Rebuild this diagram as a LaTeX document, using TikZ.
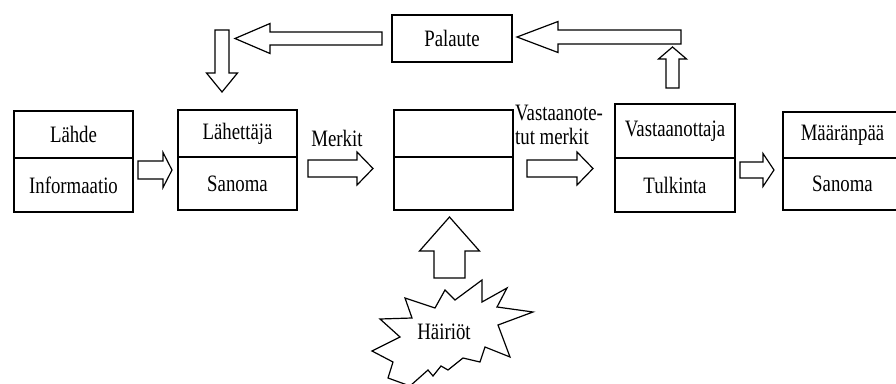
\documentclass[tikz,border=0pt]{standalone}
\usepackage{fontspec}
\setmainfont[FakeStretch=0.8]{Liberation Serif}
\usetikzlibrary{positioning,calc}

\begin{document}
\begin{tikzpicture}[x=1pt,y=-1pt,font=\fontsize{23.5}{24}\selectfont,line join=miter,
  part/.style={draw,line width=1.5pt,minimum width=119pt,inner sep=0pt,outer sep=0pt},
  blockarrow/.style n args={3}{draw,line width=1.2pt,
    to path={let \p1=(\tikztostart),\p2=(\tikztotarget),\p3=($(\tikztotarget)!#3!(\tikztostart)$) in
      ($(\p1)!#1!90:(\p2)$) -- ($(\p3)!#1!90:(\p2)$) -- ($(\p3)!#2!90:(\p2)$) -- (\p2)
      -- ($(\p3)!#2!-90:(\p2)$) -- ($(\p3)!#1!-90:(\p2)$) -- ($(\p1)!#1!-90:(\p2)$) -- cycle}}]
\fill[white] (0,0) rectangle (896,383);
\useasboundingbox (0,0) rectangle (896,383);
\node[part,minimum height=47pt] (lahde) at (73.5,134.5) {Lähde};
\node[part,minimum height=54pt,below=0pt of lahde] (informaatio) {Informaatio};
\node[part,minimum height=47pt] (lahettaja) at (237.5,133.5) {Lähettäjä};
\node[part,minimum height=53pt,below=0pt of lahettaja] (sanoma1) {Sanoma};
\node[part,minimum height=47pt] (kanava) at (453.5,133.5) {};
\node[part,minimum height=53pt,below=0pt of kanava] (kanava2) {};
\node[part,minimum width=120pt,minimum height=54pt] (vastaanottaja) at (675,131) {Vastaanottaja};
\node[part,minimum width=120pt,minimum height=54pt,below=0pt of vastaanottaja] (tulkinta) {Tulkinta};
\node[part,minimum height=46pt] (maaranpaa) at (842.5,135) {Määränpää};
\node[part,minimum height=52pt,below=0pt of maaranpaa] (sanoma2) {Sanoma};
\node[part,minimum width=120pt,minimum height=47pt] (palaute) at (452,38.5) {Palaute};
\node (merkit) at (337,138) {Merkit};
\node[align=left,anchor=west,inner sep=0pt] (vastmerkit) at (515,125) {Vastaanote-\\tut merkit};
\draw[line width=1.2pt] (405,298) -- (435,308) -- (445,290) -- (455,300) -- (482,280) -- (482,302)
  -- (507,288) -- (497,307) -- (533,312) -- (498,325) -- (510,357) -- (485,347) -- (480,362)
  -- (463,358) -- (448,370) -- (441,366) -- (433,376) -- (428,370) -- (410,386) -- (388,378)
  -- (393,362) -- (372,351) -- (400,337) -- (380,319) -- (412,318) -- cycle;
\node (hairiot) at (444,332) {Häiriöt};
\coordinate (vasenkarki) at (235,38.5);
\coordinate (oikeakarki) at (681,37);
\coordinate (alaskarki) at (222,30);
\coordinate (ylospaa) at (672.5,47);
\draw[blockarrow={9pt}{17.5pt}{9pt}] ([shift={(5,12)}]lahde.south east) to ([shift={(-6,13)}]lahettaja.south west);
\draw[blockarrow={8.5pt}{16.5pt}{16pt}] ([shift={(11,11.5)}]lahettaja.south east) to ([shift={(-21,11.5)}]kanava.south west);
\draw[blockarrow={8.5pt}{16.5pt}{16pt}] ([shift={(14,11.5)}]kanava.south east) to ([shift={(-22,10.5)}]vastaanottaja.south west);
\draw[blockarrow={8pt}{16.5pt}{11pt}] ([shift={(5,12)}]vastaanottaja.south east) to ([shift={(-9,12)}]maaranpaa.south west);
\draw[blockarrow={6.5pt}{14pt}{12pt}] ([shift={(-2.5,-16)}]vastaanottaja.north) to (ylospaa);
\draw[blockarrow={7pt}{15.5pt}{41pt}] (oikeakarki) to ([shift={(5,-1.5)}]palaute.east);
\draw[blockarrow={6.5pt}{15pt}{35pt}] ([xshift=-10pt]palaute.west) to (vasenkarki);
\draw[blockarrow={7pt}{15.5pt}{19pt}] (alaskarki) to ([shift={(-15.5,-18)}]lahettaja.north);
\draw[blockarrow={15.5pt}{30pt}{34pt}] ([shift={(5.5,-54)}]hairiot.center) to ([shift={(-4,7)}]kanava2.south);
\end{tikzpicture}
\end{document}
